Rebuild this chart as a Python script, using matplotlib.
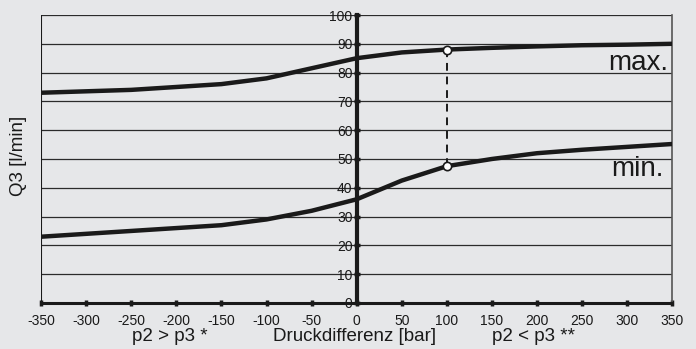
import matplotlib
matplotlib.use("Agg")
import matplotlib.pyplot as plt
import numpy as np

plt.rcParams['font.family'] = ['Liberation Sans', 'DejaVu Sans']

# Druckdifferenz [bar]
dp = [-350, -300, -250, -200, -150, -100, -50, 0, 50, 100, 150, 200, 250, 300, 350]
q_max = [73, 73.5, 74, 75, 76, 78, 81.5, 85, 87, 88, 88.6, 89.1, 89.5, 89.7, 90]
q_min = [23, 24, 25, 26, 27, 29, 32, 36, 42.5, 47.5, 50, 52, 53.2, 54.2, 55.2]
mark_x = 100
mark_max = 88
mark_min = 47.5

xticks = np.arange(-350, 351, 50)
yticks = np.arange(0, 101, 10)

bg = '#e6e7e9'
fig = plt.figure(figsize=(6.96, 3.49), dpi=100, facecolor=bg)
ax = fig.add_axes([0.059, 0.132, 0.907, 0.825], facecolor=bg)

ax.set_xlim(-350, 350)
ax.set_ylim(0, 100)

for y in yticks[1:]:
    ax.axhline(y, color='#2b2b2b', lw=0.9, zorder=1)

ax.plot(dp, q_max, color='#1a1a1a', lw=3.2, zorder=3, solid_capstyle='butt')
ax.plot(dp, q_min, color='#1a1a1a', lw=3.2, zorder=3, solid_capstyle='butt')
ax.plot([mark_x, mark_x], [mark_min, mark_max], color='#1a1a1a', lw=1.4,
        ls=(0, (4, 3)), zorder=2)
ax.plot([mark_x, mark_x], [mark_min, mark_max], 'o', ms=6, mfc='white',
        mec='#1a1a1a', mew=1.2, zorder=4)

# center y axis at 0
ax.spines['left'].set_position(('data', 0))
ax.spines['left'].set_linewidth(3)
ax.spines['left'].set_color('#1a1a1a')
ax.spines['left'].set_zorder(3)
ax.axvline(-350, color='#1a1a1a', lw=1.5, zorder=2)
ax.spines['top'].set_visible(False)
ax.spines['right'].set_color('#555555')
ax.spines['right'].set_linewidth(1.2)
ax.spines['bottom'].set_linewidth(2.2)
ax.spines['bottom'].set_color('#1a1a1a')

ax.set_yticks(yticks)
ax.set_yticklabels([str(v) for v in yticks])
ax.tick_params(axis='y', direction='inout', length=4, width=2.5, pad=1,
               labelsize=10, colors='#1a1a1a')
ax.set_xticks(xticks)
ax.set_xticklabels([str(v) for v in xticks])
ax.tick_params(axis='x', direction='inout', length=4, width=2.5, pad=6,
               labelsize=10, colors='#1a1a1a')

ax.text(345, 81, 'max.', ha='right', va='baseline', fontsize=20, color='#1a1a1a')
ax.text(340, 44, 'min.', ha='right', va='baseline', fontsize=20, color='#1a1a1a')

fig.text(0.027, 0.553, 'Q3 [l/min]', rotation=90, ha='center', va='center',
         fontsize=13.5, color='#1a1a1a')
fig.text(0.244, 0.012, 'p2 > p3 *', ha='center', va='bottom', fontsize=13.5, color='#1a1a1a')
fig.text(0.509, 0.012, 'Druckdifferenz [bar]', ha='center', va='bottom', fontsize=13.5,
         color='#1a1a1a')
fig.text(0.766, 0.012, 'p2 < p3 **', ha='center', va='bottom', fontsize=13.5, color='#1a1a1a')

fig.savefig('out.png', dpi=100, facecolor=bg)
